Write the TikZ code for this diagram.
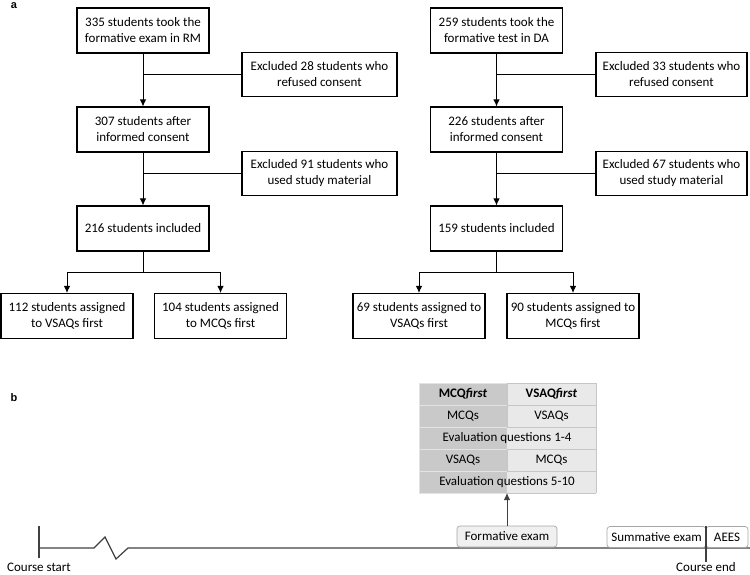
\documentclass[tikz,border=0pt]{standalone}
\usepackage{fontspec}
\setmainfont{Carlito}
\newfontfamily\panelfont{Liberation Sans}
\usetikzlibrary{positioning,arrows.meta}
\tikzset{>={Latex[length=7pt,width=6.5pt]}}

\begin{document}
\begin{tikzpicture}[x=1pt,y=-1pt,
    font=\fontsize{13}{16}\selectfont,
    flowbox/.style={draw,line width=1.05pt,align=center,minimum width=132pt,
                    minimum height=45pt,inner sep=2pt},
    exclbox/.style={flowbox,minimum width=155pt,minimum height=44pt},
    flow/.style={line width=1pt},
    tag/.style={draw=gray!70,rounded corners=3pt,line width=0.7pt,
                minimum height=21pt,inner sep=2pt},
    axis/.style={line width=1.2pt,black!75},
    panel/.style={font=\panelfont\bfseries\fontsize{11}{12}\selectfont}]
  \useasboundingbox (0,0) rectangle (750,574);

  % PANEL LABELS
  \node[panel] (pa) at (14,6) {a};
  \node[panel] (pb) at (14,398) {b};

  % FLOW RM
  \node[flowbox] (rm1) at (143,30.5) {335 students took the\\formative exam in RM};
  \node[flowbox] (rm2) at (143,129.5) {307 students after\\informed consent};
  \node[flowbox] (rm3) at (143,228.5) {216 students included};
  \node[exclbox] (rmx1) at (319.5,74.5) {Excluded 28 students who\\refused consent};
  \node[exclbox] (rmx2) at (319.5,173.5) {Excluded 91 students who\\used study material};
  \node[flowbox] (rm4) at (67,316) {112 students assigned\\to VSAQs first};
  \node[flowbox] (rm5) at (220.5,316) {104 students assigned\\to MCQs first};
  \coordinate[below=21pt of rm3] (rmsplit);

  \draw[flow,->] (rm1) -- (rm2);
  \draw[flow,->] (rm2) -- (rm3);
  \draw[flow] (rmx1.west) -- (rmx1.west -| rm1);
  \draw[flow] (rmx2.west) -- (rmx2.west -| rm2);
  \draw[flow] (rm3) -- (rmsplit);
  \draw[flow,->] (rmsplit) -| (rm4);
  \draw[flow,->] (rmsplit) -| (rm5);

  % FLOW DA
  \node[flowbox] (da1) at (496.5,30.5) {259 students took the\\formative test in DA};
  \node[flowbox] (da2) at (496.5,129.5) {226 students after\\informed consent};
  \node[flowbox] (da3) at (496.5,228.5) {159 students included};
  \node[exclbox,minimum width=151pt] (dax1) at (671.5,74.5) {Excluded 33 students who\\refused consent};
  \node[exclbox,minimum width=151pt] (dax2) at (671.5,173.5) {Excluded 67 students who\\used study material};
  \node[flowbox] (da4) at (419,316) {69 students assigned to\\VSAQs first};
  \node[flowbox] (da5) at (573,316) {90 students assigned to\\MCQs first};
  \coordinate[below=21pt of da3] (dasplit);

  \draw[flow,->] (da1) -- (da2);
  \draw[flow,->] (da2) -- (da3);
  \draw[flow] (dax1.west) -- (dax1.west -| da1);
  \draw[flow] (dax2.west) -- (dax2.west -| da2);
  \draw[flow] (da3) -- (dasplit);
  \draw[flow,->] (dasplit) -| (da4);
  \draw[flow,->] (dasplit) -| (da5);

  % TABLE
  \def\tl{419}  % left edge
  \def\tm{507}  % middle
  \def\tr{596}  % right edge
  \def\ttop{383}
  \def\th{22}   % row height
  \foreach \r in {0,...,4}{
    \fill[gray!42] (\tl,{\ttop+\th*\r}) rectangle (\tm,{\ttop+\th*(\r+1)});
    \fill[gray!17] (\tm,{\ttop+\th*\r}) rectangle (\tr,{\ttop+\th*(\r+1)});
  }
  \foreach \r in {0,...,5}{
    \draw[gray!22,line width=0.8pt] (\tl,{\ttop+\th*\r}) -- (\tm,{\ttop+\th*\r});
    \draw[gray!45,line width=0.8pt] (\tm,{\ttop+\th*\r}) -- (\tr,{\ttop+\th*\r});
  }
  \draw[gray!22,line width=0.8pt] (\tl,\ttop) -- (\tl,{\ttop+5*\th});
  \draw[gray!45,line width=0.8pt] (\tr,\ttop) -- (\tr,{\ttop+5*\th});
  \foreach \r in {0,1,3}{
    \draw[gray!45,line width=0.8pt] (\tm,{\ttop+\th*\r}) -- (\tm,{\ttop+\th*(\r+1)});
  }
  \node (hdA) at (463,394) {\textbf{MCQ\textit{first}}};
  \node (hdB) at (551.5,394) {\textbf{VSAQ\textit{first}}};
  \node (rowA) at (463,416) {MCQs};
  \node (rowB) at (551.5,416) {VSAQs};
  \node (evalA) at (\tm,438) {Evaluation questions 1-4};
  \node (rowC) at (463,460) {VSAQs};
  \node (rowD) at (551.5,460) {MCQs};
  \node (evalB) at (\tm,482) {Evaluation questions 5-10};
  \coordinate (tabbot) at (\tm,{\ttop+5*\th});

  % TIMELINE
  \coordinate (tstart) at (39,548);
  \coordinate (tstop) at (750,548);
  \draw[axis] (39,526) -- (39,558);
  \draw[axis] (tstart) -- (94,548) -- (105,537) -- (116,559) -- (128,548) -- (tstop);
  \node[tag,fill=gray!12,minimum width=100pt] (form) at (507,536.5) {Formative exam};
  \node[tag,fill=white,minimum width=99pt] (summ) at (656.5,537) {Summative exam};
  \node[tag,fill=white,minimum width=42pt] (aees) at (727,537) {AEES};
  \draw[axis] (706,526) -- (706,562);
  \draw[line width=0.9pt,black!75,->] (form) -- (tabbot);
  \node[inner sep=0pt] (cstart) at (39,567) {Course start};
  \node[inner sep=0pt] (cend) at (706,567) {Course end};
\end{tikzpicture}
\end{document}
